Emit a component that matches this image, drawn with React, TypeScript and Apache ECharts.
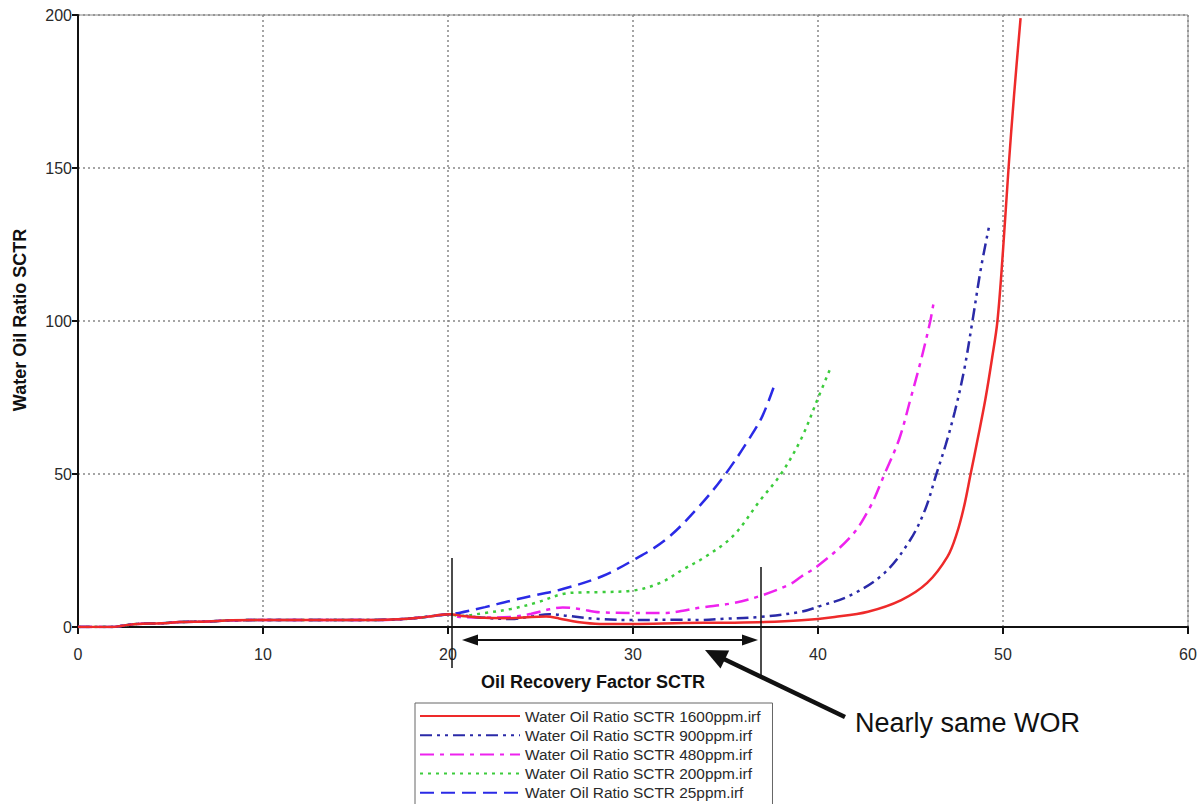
import React, { useEffect, useRef } from "react";
import * as echarts from "echarts";

// Oil recovery factor (%) vs. water-oil ratio for five surfactant concentrations.
// Shared early-time response (all runs overlap up to ~20 % recovery).
const earlyWOR: number[][] = [
  [0, 0], [1.8, 0], [2.5, 0.5], [3.2, 1.0], [4.5, 1.2], [5.5, 1.6], [7, 1.8],
  [8.3, 2.2], [12, 2.3], [16, 2.3], [17.3, 2.5], [18.4, 3.0], [19.3, 3.7], [20.1, 4.2],
];

const wor1600: number[][] = [
  [20.8, 3.6], [22, 3.0], [23.4, 2.9], [24.5, 3.3], [25.3, 3.4], [26, 2.8], [27, 1.6],
  [28.2, 1.0], [30, 1.0], [32.7, 1.3], [35, 1.4], [37.1, 1.6], [39.1, 2.2], [40.9, 3.3],
  [42.7, 5.0], [44.5, 8.8], [45.9, 14.4], [47.0, 23], [47.5, 30.5], [47.9, 39.5],
  [48.25, 50], [48.65, 62], [49.05, 74.5], [49.4, 87.5], [49.7, 100], [50.0, 123],
  [50.3, 150], [50.6, 174], [50.95, 199],
];

const wor900: number[][] = [
  [20.6, 3.9], [22, 3.0], [23.4, 2.6], [24.5, 3.4], [25.5, 4.2], [26.5, 3.6], [28.2, 2.6],
  [30, 2.3], [32.7, 2.4], [33.6, 2.3], [35, 2.7], [36.9, 3.3], [39.1, 5.0], [40, 6.6],
  [41.8, 10.5], [43.6, 17.7], [45.0, 28.6], [45.8, 38.5], [46.4, 50], [46.9, 59.5],
  [47.4, 70.5], [47.9, 84], [48.35, 100], [48.8, 117], [49.25, 131],
];

const wor480: number[][] = [
  [20.6, 3.3], [22, 3.1], [23.4, 3.3], [24.5, 4.3], [25.5, 5.8], [26.2, 6.4], [27.1, 5.9],
  [28.2, 4.8], [30, 4.6], [31.8, 4.6], [32.7, 5.3], [33.6, 6.3], [35.4, 7.8], [36.9, 10.2],
  [38.5, 14], [39.1, 16.5], [40, 20], [41.8, 29.7], [42.8, 39], [43.6, 50], [44.4, 61.6],
  [45.0, 74.5], [45.6, 88], [46.07, 100], [46.25, 106],
];

const wor200: number[][] = [
  [20.6, 3.6], [22, 4.6], [23.4, 5.9], [24.8, 8.0], [26.2, 10.8], [27.2, 11.3], [28.2, 11.4],
  [30, 11.9], [31.5, 14.5], [32.7, 18.8], [33.9, 22.9], [35.4, 29.7], [36.9, 41.6],
  [38.0, 50], [39.1, 61.6], [40.0, 74.8], [40.7, 85],
];

const wor25: number[][] = [
  [20.6, 4.6], [22, 6.5], [23.4, 8.6], [24.8, 10.5], [26.2, 12.4], [28.3, 16.5], [30, 21.8],
  [31.8, 28.7], [33.6, 39.6], [35.0, 50], [36.3, 61.7], [37.0, 69], [37.7, 80],
];

const seriesNames = [
  "Water Oil Ratio SCTR 1600ppm.irf",
  "Water Oil Ratio SCTR 900ppm.irf",
  "Water Oil Ratio SCTR 480ppm.irf",
  "Water Oil Ratio SCTR 200ppm.irf",
  "Water Oil Ratio SCTR 25ppm.irf",
];
const seriesTails = [wor1600, wor900, wor480, wor200, wor25];
const seriesColors = ["#ee2a2a", "#2a2aa8", "#ee22ee", "#3ccc3c", "#2a2ae6"];
const seriesDashes: (string | number[])[] = [
  "solid",
  [12, 5, 3, 5, 3, 5],
  [14, 6, 4, 6],
  [3, 5],
  [14, 7],
];

const xTicks = { min: 0, max: 60, interval: 10 };
const yTicks = { min: 0, max: 200, interval: 50 };

const FONT = "'Liberation Sans', Arial, sans-serif";

export default function App() {
  const ref = useRef<HTMLDivElement>(null);

  useEffect(() => {
    if (!ref.current) return;
    const chart = echarts.init(ref.current, undefined, { renderer: "svg" });

    const series = seriesNames.map((name, i) => ({
      name,
      type: "line",
      symbol: "none",
      smooth: 0.35,
      data: [...earlyWOR, ...seriesTails[i]],
      lineStyle: { color: seriesColors[i], width: 2.5, type: seriesDashes[i] },
      itemStyle: { color: seriesColors[i] },
      z: 10 - i,
    }));

    const arrowU = { x: -0.903, y: -0.432 };

    chart.setOption({
      animation: false,
      backgroundColor: "#ffffff",
      grid: {
        left: 78,
        right: 16,
        top: 15,
        bottom: 177,
        show: true,
        borderColor: "#888888",
        borderWidth: 1,
      },
      xAxis: {
        type: "value",
        ...xTicks,
        axisLine: { lineStyle: { color: "#111", width: 2 } },
        axisTick: { show: true, length: 7, lineStyle: { color: "#111", width: 2 } },
        axisLabel: { color: "#2a2a2a", fontSize: 16, fontFamily: FONT, margin: 19 },
        splitLine: { show: true, lineStyle: { color: "#888", width: 1.5, type: [2, 3] } },
      },
      yAxis: {
        type: "value",
        ...yTicks,
        axisLine: { show: true, lineStyle: { color: "#111", width: 2 } },
        axisTick: { show: true, length: 6, lineStyle: { color: "#111", width: 2 } },
        axisLabel: { color: "#2a2a2a", fontSize: 16, fontFamily: FONT, margin: 6 },
        splitLine: { show: true, lineStyle: { color: "#888", width: 1.5, type: [2, 3] } },
      },
      legend: {
        orient: "vertical",
        left: 415,
        top: 703,
        height: 96,
        data: seriesNames,
        itemWidth: 100,
        itemHeight: 14,
        itemGap: 4.2,
        padding: [5.5, 12, 5, 4],
        borderColor: "#666",
        borderWidth: 1,
        itemStyle: { opacity: 0 },
        textStyle: { color: "#2a2a2a", fontSize: 15.4, lineHeight: 14, fontFamily: FONT },
        selectedMode: false,
      },
      series,
      graphic: [
        {
          type: "text",
          x: 20,
          y: 320,
          rotation: Math.PI / 2,
          style: {
            text: "Water Oil Ratio SCTR",
            font: `bold 18px ${FONT}`,
            fill: "#111",
            align: "center",
            verticalAlign: "middle",
          },
        },
        {
          type: "text",
          x: 593,
          y: 682,
          style: {
            text: "Oil Recovery Factor SCTR",
            font: `bold 18px ${FONT}`,
            fill: "#111",
            align: "center",
            verticalAlign: "middle",
          },
        },
        // bracket marking the range with nearly the same WOR
        { type: "line", shape: { x1: 452, y1: 558, x2: 452, y2: 668 }, style: { stroke: "#111", lineWidth: 1.5 }, z: 100 },
        { type: "line", shape: { x1: 761, y1: 567, x2: 761, y2: 676 }, style: { stroke: "#111", lineWidth: 1.5 }, z: 100 },
        { type: "line", shape: { x1: 475, y1: 640, x2: 745, y2: 640 }, style: { stroke: "#111", lineWidth: 2 }, z: 100 },
        { type: "polygon", shape: { points: [[462, 640], [478, 634.5], [478, 645.5]] }, style: { fill: "#111" }, z: 100 },
        { type: "polygon", shape: { points: [[758, 640], [742, 634.5], [742, 645.5]] }, style: { fill: "#111" }, z: 100 },
        // pointer arrow to the annotation
        {
          type: "line",
          shape: { x1: 845, y1: 717, x2: 705 - 18 * arrowU.x, y2: 650 - 18 * arrowU.y },
          style: { stroke: "#111", lineWidth: 4.5 },
          z: 100,
        },
        {
          type: "polygon",
          shape: {
            points: [
              [705, 650],
              [705 - 22 * arrowU.x + 10 * 0.432, 650 - 22 * arrowU.y - 10 * 0.903],
              [705 - 22 * arrowU.x - 10 * 0.432, 650 - 22 * arrowU.y + 10 * 0.903],
            ],
          },
          style: { fill: "#111" },
          z: 100,
        },
        {
          type: "text",
          x: 855,
          y: 723,
          style: {
            text: "Nearly same WOR",
            font: `27px ${FONT}`,
            fill: "#111",
            align: "left",
            verticalAlign: "middle",
          },
          z: 100,
        },
      ],
    });

    return () => chart.dispose();
  }, []);

  return (
    <div
      ref={ref}
      style={{ position: "fixed", left: 0, top: 0, width: 1204, height: 804 }}
    />
  );
}
